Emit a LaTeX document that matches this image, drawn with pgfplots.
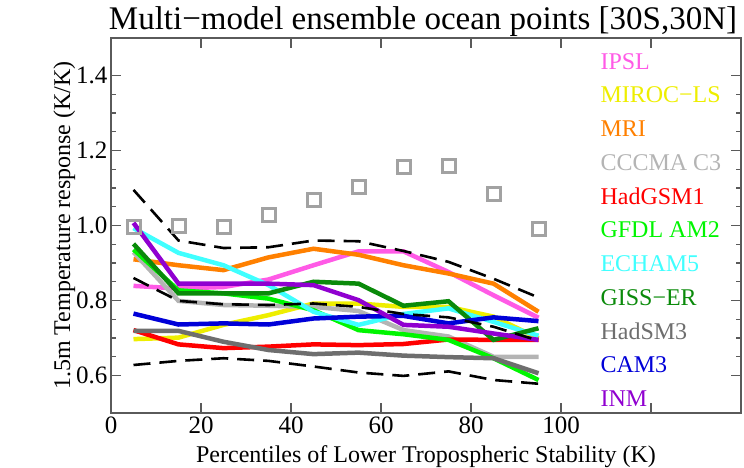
\documentclass[border=0pt]{standalone}
\usepackage{pgfplots}
\pgfplotsset{compat=1.18}
\usepackage{fontspec}
\setmainfont{Liberation Serif}
\usepackage{xcolor}
\definecolor{ipsl}{RGB}{255,90,230}
\definecolor{miroc}{RGB}{238,238,0}
\definecolor{mri}{RGB}{255,128,0}
\definecolor{cccma}{RGB}{180,180,180}
\definecolor{hadgsm}{RGB}{255,0,0}
\definecolor{gfdl}{RGB}{0,245,0}
\definecolor{echam}{RGB}{64,255,255}
\definecolor{giss}{RGB}{10,138,10}
\definecolor{hadsm}{RGB}{110,110,110}
\definecolor{cam}{RGB}{0,0,216}
\definecolor{inm}{RGB}{144,0,208}
\definecolor{axisgray}{RGB}{90,90,90}
\tikzset{modelname/.style={anchor=west, font=\rmfamily\fontsize{24}{28}\selectfont}}

\begin{document}
\begin{tikzpicture}
\path[use as bounding box] (0,0) rectangle (744pt,467pt);
\begin{axis}[
  at={(111pt,54pt)}, anchor=south west,
  scale only axis,
  width=630pt, height=375pt,
  xmin=0, xmax=140, ymin=0.5, ymax=1.5,
  xtick={0,20,...,140},
  xticklabels={0,20,40,60,80,100,,},
  ytick={0.6,0.8,1.0,1.2,1.4},
  minor y tick num=3,
  yticklabel style={/pgf/number format/.cd,fixed,fixed zerofill,precision=1},
  /pgf/number format/assume math mode=true,
  tick align=inside,
  major tick length=10pt,
  minor tick length=5pt,
  axis line style={axisgray, line width=1.3pt},
  every tick/.style={axisgray, line width=1.1pt},
  ticklabel style={font=\rmfamily\fontsize{25}{30}\selectfont},
  xlabel={Percentiles of Lower Tropospheric Stability (K)},
  ylabel={1.5m Temperature response (K/K)},
  label style={font=\rmfamily\fontsize{24}{28}\selectfont},
  xlabel style={yshift=-5pt},
  ylabel style={yshift=-6pt},
  title={Multi−model ensemble ocean points [30S,30N]},
  title style={font=\rmfamily\fontsize{33}{38}\selectfont, yshift=-8pt, xshift=-3pt},
  clip=false,
  every axis plot/.append style={line width=4.5pt},
]
% model curves
\addplot[ipsl] coordinates {(5,0.839)(15,0.832)(25,0.836)(35,0.856)(45,0.894)(55,0.931)(65,0.931)(75,0.876)(85,0.814)(95,0.754)};
\addplot[miroc] coordinates {(5,0.697)(15,0.701)(25,0.735)(35,0.761)(45,0.792)(55,0.792)(65,0.783)(75,0.783)(85,0.757)(95,0.699)};
\addplot[mri] coordinates {(5,0.910)(15,0.894)(25,0.881)(35,0.915)(45,0.938)(55,0.922)(65,0.894)(75,0.872)(85,0.845)(95,0.770)};
\addplot[cccma] coordinates {(5,0.929)(15,0.799)(25,0.788)(35,0.786)(45,0.783)(55,0.772)(65,0.721)(75,0.704)(85,0.650)(95,0.650)};
\addplot[hadgsm] coordinates {(5,0.721)(15,0.683)(25,0.673)(35,0.677)(45,0.683)(55,0.681)(65,0.684)(75,0.696)(85,0.695)(95,0.695)};
\addplot[gfdl] coordinates {(5,0.936)(15,0.827)(25,0.819)(35,0.805)(45,0.774)(55,0.721)(65,0.710)(75,0.695)(85,0.646)(95,0.588)};
\addplot[echam] coordinates {(5,0.993)(15,0.927)(25,0.894)(35,0.841)(45,0.770)(55,0.735)(65,0.764)(75,0.779)(85,0.743)(95,0.706)};
\addplot[giss] coordinates {(5,0.951)(15,0.819)(25,0.819)(35,0.819)(45,0.850)(55,0.845)(65,0.786)(75,0.798)(85,0.695)(95,0.726)};
\addplot[hadsm] coordinates {(5,0.719)(15,0.719)(25,0.690)(35,0.668)(45,0.657)(55,0.661)(65,0.653)(75,0.649)(85,0.646)(95,0.606)};
\addplot[cam] coordinates {(5,0.765)(15,0.736)(25,0.739)(35,0.736)(45,0.752)(55,0.757)(65,0.759)(75,0.739)(85,0.755)(95,0.745)};
\addplot[inm] coordinates {(5,1.007)(15,0.845)(25,0.845)(35,0.845)(45,0.841)(55,0.801)(65,0.735)(75,0.730)(85,0.712)(95,0.695)};
% ensemble spread (dashed)
\addplot[black, line width=2.6pt, dash pattern=on 17pt off 9pt] coordinates {(5,1.095)(15,0.960)(25,0.940)(35,0.942)(45,0.960)(55,0.958)(65,0.932)(75,0.903)(85,0.858)(95,0.808)};
\addplot[black, line width=2.6pt, dash pattern=on 17pt off 9pt] coordinates {(5,0.860)(15,0.799)(25,0.790)(35,0.788)(45,0.792)(55,0.783)(65,0.764)(75,0.755)(85,0.730)(95,0.693)};
\addplot[black, line width=2.6pt, dash pattern=on 17pt off 9pt] coordinates {(5,0.628)(15,0.639)(25,0.646)(35,0.639)(45,0.624)(55,0.608)(65,0.599)(75,0.611)(85,0.588)(95,0.578)};
% squares
\addplot[only marks, mark=square, mark size=6.5pt, draw=cccma!90!black, line width=3pt] coordinates {(5,0.996)(15,0.998)(25,0.996)(35,1.027)(45,1.069)(55,1.103)(65,1.155)(75,1.158)(85,1.085)(95,0.991)};
% model names
\node[modelname, text=ipsl] at (axis cs:108,1.438) {IPSL};
\node[modelname, text=miroc] at (axis cs:108,1.348) {MIROC−LS};
\node[modelname, text=mri] at (axis cs:108,1.258) {MRI};
\node[modelname, text=cccma] at (axis cs:108,1.168) {CCCMA C3};
\node[modelname, text=hadgsm] at (axis cs:108,1.078) {HadGSM1};
\node[modelname, text=gfdl] at (axis cs:108,0.988) {GFDL AM2};
\node[modelname, text=echam] at (axis cs:108,0.898) {ECHAM5};
\node[modelname, text=giss] at (axis cs:108,0.808) {GISS−ER};
\node[modelname, text=hadsm] at (axis cs:108,0.718) {HadSM3};
\node[modelname, text=cam] at (axis cs:108,0.628) {CAM3};
\node[modelname, text=inm] at (axis cs:108,0.538) {INM};
\end{axis}
\end{tikzpicture}
\end{document}
